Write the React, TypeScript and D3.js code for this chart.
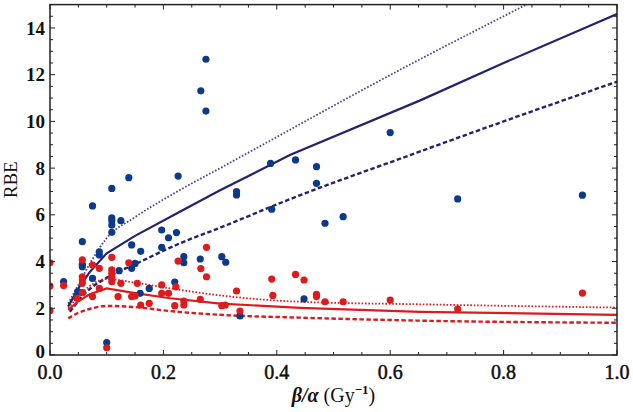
import * as d3 from "d3"

// model curves: [beta/alpha, RBE]
const blueSolid: [number, number][] = [
    [0.032, 2.07], [0.05, 2.85], [0.07, 3.55], [0.1, 4.35], [0.15, 5.1], [0.229, 6.13],
    [0.3, 7.05], [0.423, 8.56], [0.653, 10.9], [0.8, 12.5], [1.0, 14.6],
]
const blueDashed: [number, number][] = [
    [0.035, 1.85], [0.06, 2.6], [0.103, 3.35], [0.147, 3.85], [0.229, 4.78], [0.3, 5.45],
    [0.42, 6.64], [0.64, 8.6], [0.8, 10.0], [1.0, 11.7],
]
const blueDotted: [number, number][] = [
    [0.032, 2.2], [0.05, 3.0], [0.07, 3.9], [0.1, 5.0], [0.15, 5.9], [0.229, 7.06],
    [0.3, 8.0], [0.64, 12.5], [0.84, 15.0], [1.0, 17.0],
]
const redSolid: [number, number][] = [
    [0.032, 1.93], [0.05, 2.3], [0.07, 2.6], [0.1, 2.85], [0.15, 2.65], [0.212, 2.43],
    [0.3, 2.2], [0.441, 2.02], [0.653, 1.85], [1.0, 1.72],
]
const redDotted: [number, number][] = [
    [0.032, 2.0], [0.05, 2.5], [0.07, 2.95], [0.1, 3.25], [0.15, 3.1], [0.212, 2.85],
    [0.3, 2.55], [0.44, 2.28], [0.653, 2.17], [1.0, 2.03],
]
const redDashed: [number, number][] = [
    [0.032, 1.57], [0.05, 1.8], [0.07, 1.97], [0.1, 2.1], [0.15, 2.05], [0.212, 1.88],
    [0.3, 1.72], [0.44, 1.6], [0.653, 1.47], [1.0, 1.38],
]

// measured points
const bluePoints: [number, number][] = [
    [0.024, 3.14], [0.049, 2.71], [0.057, 4.85], [0.057, 3.88], [0.057, 3.78],
    [0.075, 6.38], [0.075, 3.28], [0.087, 4.42], [0.087, 4.28], [0.1, 0.53],
    [0.109, 7.13], [0.109, 5.87], [0.109, 5.75], [0.109, 5.56], [0.109, 5.25],
    [0.122, 3.61], [0.125, 5.75], [0.139, 7.59], [0.144, 4.71], [0.144, 3.71],
    [0.15, 3.92], [0.16, 4.44], [0.159, 2.64], [0.175, 2.85], [0.197, 5.35],
    [0.197, 4.61], [0.209, 5.02], [0.223, 5.24], [0.22, 3.12], [0.226, 7.66],
    [0.236, 4.21], [0.236, 3.95], [0.265, 4.11], [0.266, 11.31], [0.275, 12.66],
    [0.275, 10.44], [0.303, 4.21], [0.31, 3.97], [0.329, 7.0], [0.329, 6.85],
    [0.335, 1.67], [0.389, 8.2], [0.391, 6.24], [0.433, 8.35], [0.448, 2.4],
    [0.47, 8.06], [0.47, 7.35], [0.485, 5.64], [0.517, 5.92], [0.6, 9.52],
    [0.719, 6.68], [0.939, 6.84],
]
const redPoints: [number, number][] = [
    [0.0, 3.95], [0.0, 2.95], [0.0, 1.9], [0.024, 2.97], [0.047, 2.43],
    [0.057, 4.07], [0.057, 3.35], [0.057, 3.21], [0.057, 3.07], [0.057, 2.67],
    [0.075, 3.85], [0.075, 2.5], [0.087, 3.71], [0.087, 2.85], [0.1, 0.31],
    [0.109, 4.18], [0.109, 3.64], [0.109, 3.5], [0.109, 3.33], [0.109, 3.14],
    [0.12, 2.5], [0.125, 3.07], [0.139, 3.95], [0.144, 2.5], [0.15, 2.53],
    [0.154, 3.07], [0.16, 2.14], [0.175, 2.21], [0.197, 3.0], [0.197, 2.64],
    [0.209, 2.64], [0.22, 2.11], [0.222, 2.92], [0.226, 4.02], [0.236, 2.31],
    [0.236, 2.14], [0.265, 2.38], [0.266, 3.7], [0.276, 4.61], [0.276, 3.35],
    [0.303, 2.11], [0.309, 2.14], [0.329, 2.74], [0.335, 1.88], [0.391, 3.25],
    [0.393, 2.55], [0.433, 3.45], [0.448, 3.21], [0.47, 2.6], [0.47, 2.5],
    [0.485, 2.28], [0.517, 2.28], [0.6, 2.35], [0.719, 1.97], [0.939, 2.65],
]

const xTicks = [0, 0.2, 0.4, 0.6, 0.8, 1.0]
const yTicks = [0, 2, 4, 6, 8, 10, 12, 14]

const W = 633
const H = 412
const margin = { top: 4.6, right: 16, bottom: 57, left: 50 }

const BLUE_LINE = "#23236e"
const BLUE_DOT = "#0c3a8a"
const RED = "#dd1a1c"

export default function App() {
    const x = d3.scaleLinear().domain([0, 1]).range([margin.left, W - margin.right])
    const y = d3.scaleLinear().domain([0, 15]).range([H - margin.bottom, margin.top])
    const smooth = d3.line<[number, number]>().x(d => x(d[0])).y(d => y(d[1])).curve(d3.curveMonotoneX)
    const sharp = d3.line<[number, number]>().x(d => x(d[0])).y(d => y(d[1]))

    const x0 = x.range()[0], x1 = x.range()[1]
    const y0 = y.range()[0], y1 = y.range()[1]
    const xMinor = d3.range(0, 1.0001, 0.05)
    const yMinor = d3.range(0, 15.0001, 0.5)
    const serif = "'Liberation Serif', 'Times New Roman', serif"

    const curves = [
        { d: blueDotted, color: "#4a3f9a", dash: "1.6 1.8", w: 1.8, gen: smooth },
        { d: blueSolid, color: BLUE_LINE, dash: null, w: 2.2, gen: sharp },
        { d: blueDashed, color: BLUE_LINE, dash: "4.5 2.5", w: 2.4, gen: smooth },
        { d: redDotted, color: RED, dash: "1.6 1.8", w: 1.8, gen: smooth },
        { d: redSolid, color: RED, dash: null, w: 2.2, gen: sharp },
        { d: redDashed, color: RED, dash: "4.5 2.5", w: 2.4, gen: smooth },
    ]

    return (
        <div style={{ position: "fixed", left: 0, top: 0 }}>
            <svg width={W} height={H} style={{ display: "block", background: "#fff" }}>
                <defs>
                    <clipPath id="plot">
                        <rect x={x0} y={y1} width={x1 - x0} height={y0 - y1} />
                    </clipPath>
                </defs>

                <g clipPath="url(#plot)">
                    {curves.map((c, i) => (
                        <path key={i} d={c.gen(c.d) ?? ""} fill="none" stroke={c.color}
                            strokeWidth={c.w} strokeDasharray={c.dash ?? undefined} />
                    ))}
                    {bluePoints.map((p, i) => (
                        <circle key={"b" + i} cx={x(p[0])} cy={y(p[1])} r={3.6} fill={BLUE_DOT} />
                    ))}
                    {redPoints.map((p, i) => (
                        <circle key={"r" + i} cx={x(p[0])} cy={y(p[1])} r={3.6} fill={RED} />
                    ))}
                </g>

                {/* frame ticks, pointing inward */}
                <g stroke="#222" strokeWidth={1}>
                    {xMinor.map((v, i) => {
                        const major = Math.abs(v * 5 - Math.round(v * 5)) < 1e-6
                        const len = major ? 5 : 3
                        return (
                            <g key={"xt" + i}>
                                <line x1={x(v)} x2={x(v)} y1={y0} y2={y0 - len} />
                                <line x1={x(v)} x2={x(v)} y1={y1} y2={y1 + len} />
                            </g>
                        )
                    })}
                    {yMinor.map((v, i) => {
                        const major = Math.abs(v / 2 - Math.round(v / 2)) < 1e-6
                        const len = major ? 5 : 3
                        return (
                            <g key={"yt" + i}>
                                <line x1={x0} x2={x0 + len} y1={y(v)} y2={y(v)} />
                                <line x1={x1} x2={x1 - len} y1={y(v)} y2={y(v)} />
                            </g>
                        )
                    })}
                </g>
                <rect x={x0} y={y1} width={x1 - x0} height={y0 - y1} fill="none" stroke="#222" strokeWidth={1.5} />

                {/* tick labels */}
                <g fontFamily={serif} fontSize={20} fill="#111" stroke="#111" strokeWidth={0.5}>
                    {xTicks.map(v => (
                        <text key={"xl" + v} x={x(v)} y={379} textAnchor="middle">{v.toFixed(1)}</text>
                    ))}
                </g>
                <g fontFamily={serif} fontWeight="bold" fontSize={19} fill="#111">
                    {yTicks.map(v => (
                        <text key={"yl" + v} x={x0 - 5} y={y(v) - (v === 0 ? 4 : 0)} dy="0.35em" textAnchor="end">{v}</text>
                    ))}
                </g>

                <text transform={`translate(17,${(y0 + y1) / 2}) rotate(-90)`} textAnchor="middle"
                    fontFamily={serif} fontSize={19} fill="#111">RBE</text>

                <text x={(x0 + x1) / 2} y={402} textAnchor="middle" fontFamily={serif} fontSize={20} fill="#111">
                    <tspan fontWeight="bold" fontStyle="italic">β/α</tspan>
                    <tspan> (Gy</tspan>
                    <tspan dy={-8} fontSize={13} fontWeight="bold">−1</tspan>
                    <tspan dy={8}>)</tspan>
                </text>
            </svg>
        </div>
    )
}
